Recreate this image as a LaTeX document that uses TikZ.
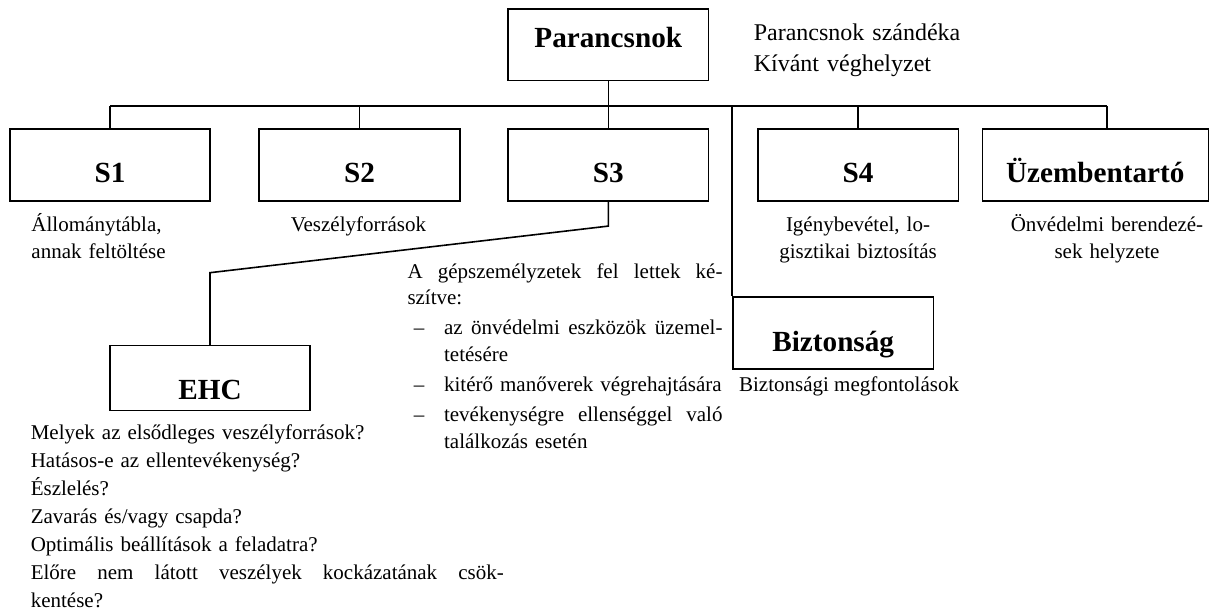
\documentclass[tikz,border=0pt]{standalone}
\usepackage{fontspec}
\setmainfont{Liberation Serif}
\newcommand{\dashitem}[1]{\makebox[18.3pt][l]{\hspace*{3.15pt}–}#1}
\newcommand{\spreadline}[2]{\leavevmode\hbox to #1{#2}}

\begin{document}
\begin{tikzpicture}[
    x=0.5pt, y=-0.5pt,
    line width=0.8pt,
    box/.style={draw, line width=0.8pt, inner sep=0pt, anchor=base,
        font=\fontsize{14.6}{16}\selectfont\bfseries},
    sbox/.style={box, minimum width=100pt, text height=26.85pt, text depth=9.15pt},
    note/.style={inner sep=0pt, font=\fontsize{10.5}{13.2}\selectfont}
]
    \useasboundingbox (0,0) rectangle (1209,613);

    % Commander
    \node[box, minimum width=100.35pt, text height=19.35pt, text depth=16.35pt]
        (parancsnok) at (608.3,48) {Parancsnok};
    \node[note, anchor=base west, text width=150pt, font=\fontsize{12}{15.5}\selectfont]
        (intent) at (753,40.7) {Parancsnok szándéka\\Kívánt véghelyzet};

    % Staff boxes
    \node[sbox] (s1) at (110,183) {S1};
    \node[sbox, minimum width=100.5pt] (s2) at (359.5,183) {S2};
    \node[sbox, minimum width=100.35pt] (s3) at (608.3,183) {S3};
    \node[sbox, minimum width=100.3pt] (s4) at (858,183) {S4};
    \node[sbox, minimum width=113pt] (uzem) at (1095.3,183) {Üzembentartó};
    \node[box, minimum width=100pt, text height=27.15pt, text depth=5.35pt]
        (ehc) at (210,400) {EHC};
    \node[box, minimum width=100.15pt, text height=27.2pt, text depth=8.8pt]
        (bizt) at (833.2,351.7) {Biztonság};

    % Bus and drops
    \coordinate (busL) at (110,106);
    \coordinate (busR) at (1107,106);
    \coordinate (ehcbend) at (ehc.north |- 0,272.7);
    \draw (busL) -- (busR);
    \draw (parancsnok) -- (s3);
    \draw (busL) -- (s1);
    \draw (busL -| s2) -- (s2);
    \draw (busL -| s4) -- (s4);
    \draw (busR) -- (busR |- uzem.north);
    \draw (bizt.north west |- busL) -- (bizt.north west);
    \draw (s3.south) -- ++(0,24) -- (ehcbend) -- (ehc.north);

    % Notes
    \node[note, anchor=base west, text width=120pt] (s1note) at (30.7,231.7)
        {Állománytábla,\\annak feltöltése};
    \node[note, anchor=base west] (s2note) at (290,231.7) {Veszélyforrások};
    \node[note, anchor=base, text width=110pt, align=center] (s4note) at (858,231.7)
        {Igénybevétel, lo-\\gisztikai biztosítás};
    \node[note, anchor=base, text width=110pt, align=center] (uzemnote) at (1107,231.7)
        {Önvédelmi berendezé-\\sek helyzete};
    \node[note, anchor=base west] (biztnote) at (738.3,391.7) {Biztonsági megfontolások};
    \node[note, anchor=base west, text width=157.5pt, font=\fontsize{10.5}{13.35}\selectfont]
        (s3note) at (406.7,278.3) {%
        \spreadline{157.5pt}{A\hfill gépszemélyzetek\hfill fel\hfill lettek\hfill ké-}\\
        szítve:\\[1.65pt]
        \dashitem{\spreadline{139.2pt}{az\hfill önvédelmi\hfill eszközök\hfill üzemel-}}\\
        \hspace*{18.3pt}tetésére\\[1.65pt]
        \dashitem{kitérő manőverek végrehajtására}\\[1.65pt]
        \dashitem{\spreadline{139.2pt}{tevékenységre\hfill ellenséggel\hfill való}}\\
        \hspace*{18.3pt}találkozás esetén};
    \node[note, anchor=base west, text width=236.5pt, font=\fontsize{10.5}{14}\selectfont]
        (ehcnote) at (30,440) {%
        Melyek az elsődleges veszélyforrások?\\
        Hatásos-e az ellentevékenység?\\
        Észlelés?\\
        Zavarás és/vagy csapda?\\
        Optimális beállítások a feladatra?\\
        \spreadline{236.5pt}{Előre\hfill nem\hfill látott\hfill veszélyek\hfill kockázatának\hfill csök-}\\
        kentése?};

\end{tikzpicture}
\end{document}
